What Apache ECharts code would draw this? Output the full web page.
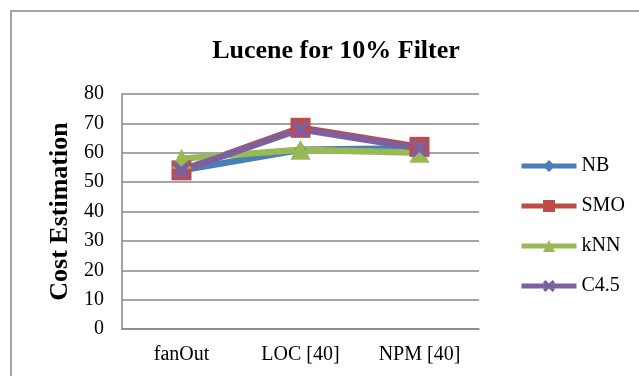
<!DOCTYPE html>
<html>
<head>
<meta charset="utf-8">
<script src="https://cdn.jsdelivr.net/npm/echarts@6/dist/echarts.min.js"></script>
<style>html,body{margin:0;padding:0;background:#fff;}#c{width:639px;height:376px;}</style>
</head>
<body>
<div id="c"></div>
<script>
var categories = ['fanOut', 'LOC [40]', 'NPM [40]'];
var seriesNames = ['NB', 'SMO', 'kNN', 'C4.5'];
var nbValues = [54, 61, 61.5];
var smoValues = [54, 68.5, 62];
var knnValues = [58, 61, 60];
var c45Values = [54, 68, 61.5];
var yTicks = [0, 80, 10];

var FONT = '"Liberation Serif", "Times New Roman", serif';
var GRAY = '#868686';
var crossPath = 'path://M0,2L2,0L5,3L8,0L10,2L7,5L10,8L8,10L5,7L2,10L0,8L3,5Z';

function mkSeries(name, data, color, symbol, size) {
  return {
    name: name, type: 'line', data: data,
    symbol: symbol, symbolSize: size,
    lineStyle: { color: color, width: 6.5 },
    itemStyle: { color: color },
    emphasis: { disabled: true },
    animation: false
  };
}

var chart = echarts.init(document.getElementById('c'));
chart.setOption({
  backgroundColor: '#fff',
  animation: false,
  graphic: [{
    type: 'rect', shape: { x: 11, y: 11, width: 800, height: 600 },
    style: { fill: 'none', stroke: GRAY, lineWidth: 1.5 }, silent: true
  }],
  title: {
    text: 'Lucene for 10% Filter',
    left: 331, top: 33, textAlign: 'center',
    textStyle: { fontFamily: FONT, fontWeight: 'bold', fontSize: 26, color: '#000' }
  },
  legend: {
    orient: 'vertical', left: 514, top: 151,
    itemWidth: 55, itemHeight: 15, itemGap: 20,
    lineStyle: { width: 5 },
    textStyle: { fontFamily: FONT, fontSize: 20, color: '#000' },
    data: seriesNames
  },
  grid: { left: 122, right: 160, top: 94, bottom: 47, containLabel: false },
  xAxis: {
    type: 'category', data: categories, boundaryGap: true,
    axisLine: { lineStyle: { color: GRAY, width: 1.5 } },
    axisTick: { show: false },
    axisLabel: { fontFamily: FONT, fontSize: 20, color: '#000', margin: 16 }
  },
  yAxis: {
    type: 'value', min: yTicks[0], max: yTicks[1], interval: yTicks[2],
    name: 'Cost Estimation', nameLocation: 'middle', nameGap: 46,
    nameTextStyle: { fontFamily: FONT, fontWeight: 'bold', fontSize: 26, color: '#000' },
    axisLine: { show: true, lineStyle: { color: GRAY, width: 1.5 } },
    axisTick: { show: false },
    splitLine: { lineStyle: { color: GRAY, width: 1.5 } },
    axisLabel: { fontFamily: FONT, fontSize: 20, color: '#000', margin: 18 }
  },
  series: [
    mkSeries(seriesNames[0], nbValues, '#4a7ebb', 'diamond', [12, 16]),
    mkSeries(seriesNames[1], smoValues, '#be4b48', 'rect', 20),
    mkSeries(seriesNames[2], knnValues, '#98b954', 'triangle', 20),
    mkSeries(seriesNames[3], c45Values, '#7d60a0', crossPath, 18)
  ]
});
</script>
</body>
</html>
